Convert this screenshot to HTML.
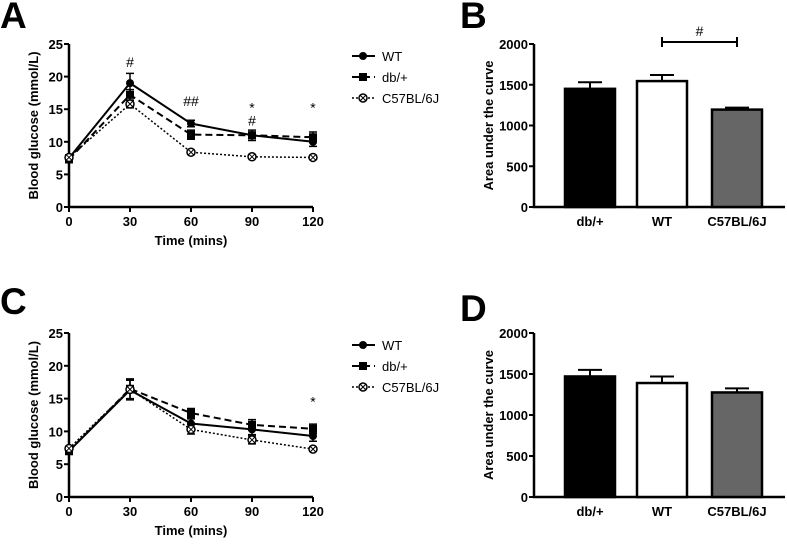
<!DOCTYPE html>
<html><head><meta charset="utf-8"><style>
body{margin:0;background:#fff;width:787px;height:539px;overflow:hidden}
svg{font-family:"Liberation Sans",Arial,sans-serif}
</style></head><body>
<svg id="s" width="787" height="539" xmlns="http://www.w3.org/2000/svg"></svg>
<script>
const timeCats=[0,30,60,90,120];
const yTicksLine=[0,5,10,15,20,25];
const aWT=[7.5,19,12.8,11,10], aWTe=[0.5,1.5,0.5,0.5,0.7];
const aDB=[7.3,17.2,11.1,11,10.7], aDBe=[0.5,0.8,0.7,0.8,0.8];
const aC57=[7.6,15.8,8.4,7.7,7.6], aC57e=[0.3,0.6,0.3,0.3,0.3];
const cWT=[7,16.3,11.2,10.3,9.3], cWTe=[0.5,1.5,0.7,0.8,0.8];
const cDB=[7,16.5,12.8,11,10.4], cDBe=[0.5,1.5,0.7,0.8,0.7];
const cC57=[7.4,16.4,10.3,8.7,7.3], cC57e=[0.3,0.5,0.7,0.6,0.3];
const barCats=["db/+","WT","C57BL/6J"];
const yTicksBar=[0,500,1000,1500,2000];
const bVals=[1450,1545,1195], bErr=[80,75,25];
const dVals=[1470,1390,1275], dErr=[80,80,50];
const aNotes=[["#",30,21.5],["##",60,15.5],["*",90,14.5],["#",90,12.5],["*",120,14.5]];
const cNotes=[["*",120,13.8]];
const barFills=["#000","#fff","#666"];

const S=document.getElementById('s');
function el(t,a,txt){const e=document.createElementNS('http://www.w3.org/2000/svg',t);for(const k in a)e.setAttribute(k,a[k]);if(txt!=null)e.textContent=txt;S.appendChild(e);return e;}

function panelLetter(ch,x,y){const t=el('text',{x:x,y:y,'font-size':37,'font-weight':'bold'},ch);

}

function lineChart(id,top,bot,series,notes,legY){
  const x0=69,x1=313;
  const X=v=>x0+(x1-x0)*v/120, Y=v=>bot-(bot-top)*v/25;
  let ax=el('path',{d:`M${x0},${top} V${bot} H${x1}`,stroke:'#000','stroke-width':2.5,fill:'none'});
  
  
  yTicksLine.forEach(v=>{el('line',{x1:x0-5,x2:x0,y1:Y(v),y2:Y(v),stroke:'#000','stroke-width':2});
    const t=el('text',{x:x0-6,y:Y(v)+5,'font-size':13,'font-weight':'bold','text-anchor':'end'},v);
    
    });
  timeCats.forEach(v=>{el('line',{x1:X(v),x2:X(v),y1:bot,y2:bot+5,stroke:'#000','stroke-width':2});
    const t=el('text',{x:X(v),y:bot+19,'font-size':13,'font-weight':'bold','text-anchor':'middle'},v);
    
    });
  const xt=el('text',{x:(x0+x1)/2,y:bot+38,'font-size':13,'font-weight':'bold','text-anchor':'middle'},'Time (mins)');
  
  
  const yt=el('text',{transform:`translate(${x0-31},${(top+bot)/2}) rotate(-90)`,'font-size':13,'font-weight':'bold','text-anchor':'middle'},'Blood glucose (mmol/L)');
  
  
  series.forEach(s=>{
    const p=el('polyline',{points:s.v.map((v,i)=>X(timeCats[i])+','+Y(v)).join(' '),fill:'none',stroke:'#000','stroke-width':s.w,'stroke-dasharray':s.dash});
    
    
    s.v.forEach((v,i)=>{const x=X(timeCats[i]);
      el('path',{d:`M${x},${Y(v-s.e[i])}V${Y(v+s.e[i])}M${x-4},${Y(v+s.e[i])}H${x+4}M${x-4},${Y(v-s.e[i])}H${x+4}`,stroke:'#000','stroke-width':1.5});
      drawMarker(s.m,x,Y(v),id+'-point-'+s.n);});
  });
  notes.forEach(n=>{const t=el('text',{x:X(n[1]),y:Y(n[2]),'font-size':14,'text-anchor':'middle'},n[0]);
    
    });
  series.forEach((s,i)=>{const y=legY+i*21;
    el('line',{x1:352,x2:375,y1:y,y2:y,stroke:'#000','stroke-width':s.w,'stroke-dasharray':s.dash});
    drawMarker(s.m,363,y,id+'-legend-marker');
    const t=el('text',{x:382,y:y+5,'font-size':13},s.n);
    
    });
}
function drawMarker(m,x,y,name){let e;
  if(m==='c')e=el('circle',{cx:x,cy:y,r:4,fill:'#000'});
  else if(m==='s')e=el('rect',{x:x-4,y:y-4,width:8,height:8,fill:'#000'});
  else{e=el('circle',{cx:x,cy:y,r:4,fill:'#fff',stroke:'#000','stroke-width':1.5});
    el('path',{d:`M${x-2.5},${y-2.5}L${x+2.5},${y+2.5}M${x+2.5},${y-2.5}L${x-2.5},${y+2.5}`,stroke:'#000','stroke-width':1});}
  
  }

function barChart(id,top,bot,vals,errs,bracket){
  const x0=534,x1=785,Y=v=>bot-(bot-top)*v/2000;
  const bx=[565,637,712],bw=50;
  const ax=el('path',{d:`M${x0},${top} V${bot} H${x1}`,stroke:'#000','stroke-width':2.5,fill:'none'});
  
  
  yTicksBar.forEach(v=>{el('line',{x1:x0-5,x2:x0,y1:Y(v),y2:Y(v),stroke:'#000','stroke-width':2});
    const t=el('text',{x:x0-6,y:Y(v)+5,'font-size':13,'font-weight':'bold','text-anchor':'end'},v);
    
    });
  const yt=el('text',{transform:`translate(${x0-41},${(top+bot)/2}) rotate(-90)`,'font-size':13,'font-weight':'bold','text-anchor':'middle'},'Area under the curve');
  
  
  vals.forEach((v,i)=>{const cx=bx[i]+bw/2;
    el('path',{d:`M${cx},${Y(v)}V${Y(v+errs[i])}M${cx-12},${Y(v+errs[i])}H${cx+12}`,stroke:'#000','stroke-width':2});
    const r=el('rect',{x:bx[i],y:Y(v),width:bw,height:bot-Y(v),fill:barFills[i],stroke:'#000','stroke-width':2.5});
    
    
    const t=el('text',{x:cx,y:bot+19,'font-size':13,'font-weight':'bold','text-anchor':'middle'},barCats[i]);
    
    });
  if(bracket){const a=bx[1]+bw/2,b=bx[2]+bw/2,y=top-2;
    const p=el('path',{d:`M${a},${y-5}V${y+5}M${a},${y}H${b}M${b},${y-5}V${y+5}`,stroke:'#000','stroke-width':2});
    
    
    const t=el('text',{x:(a+b)/2,y:y-6,'font-size':14,'text-anchor':'middle'},'#');
    
    }
}
panelLetter('A',0,28);panelLetter('B',460,28);panelLetter('C',0,314);panelLetter('D',460,321);
lineChart('chart-a',44,207,[{n:'WT',v:aWT,e:aWTe,m:'c',w:2,dash:''},{n:'db/+',v:aDB,e:aDBe,m:'s',w:2,dash:'7,4'},{n:'C57BL/6J',v:aC57,e:aC57e,m:'o',w:1.5,dash:'2,2'}],aNotes,56);
lineChart('chart-c',333,497,[{n:'WT',v:cWT,e:cWTe,m:'c',w:2,dash:''},{n:'db/+',v:cDB,e:cDBe,m:'s',w:2,dash:'7,4'},{n:'C57BL/6J',v:cC57,e:cC57e,m:'o',w:1.5,dash:'2,2'}],cNotes,345);
barChart('chart-b',44,207,bVals,bErr,true);
barChart('chart-d',333,497,dVals,dErr,false);
</script>
</body></html>
